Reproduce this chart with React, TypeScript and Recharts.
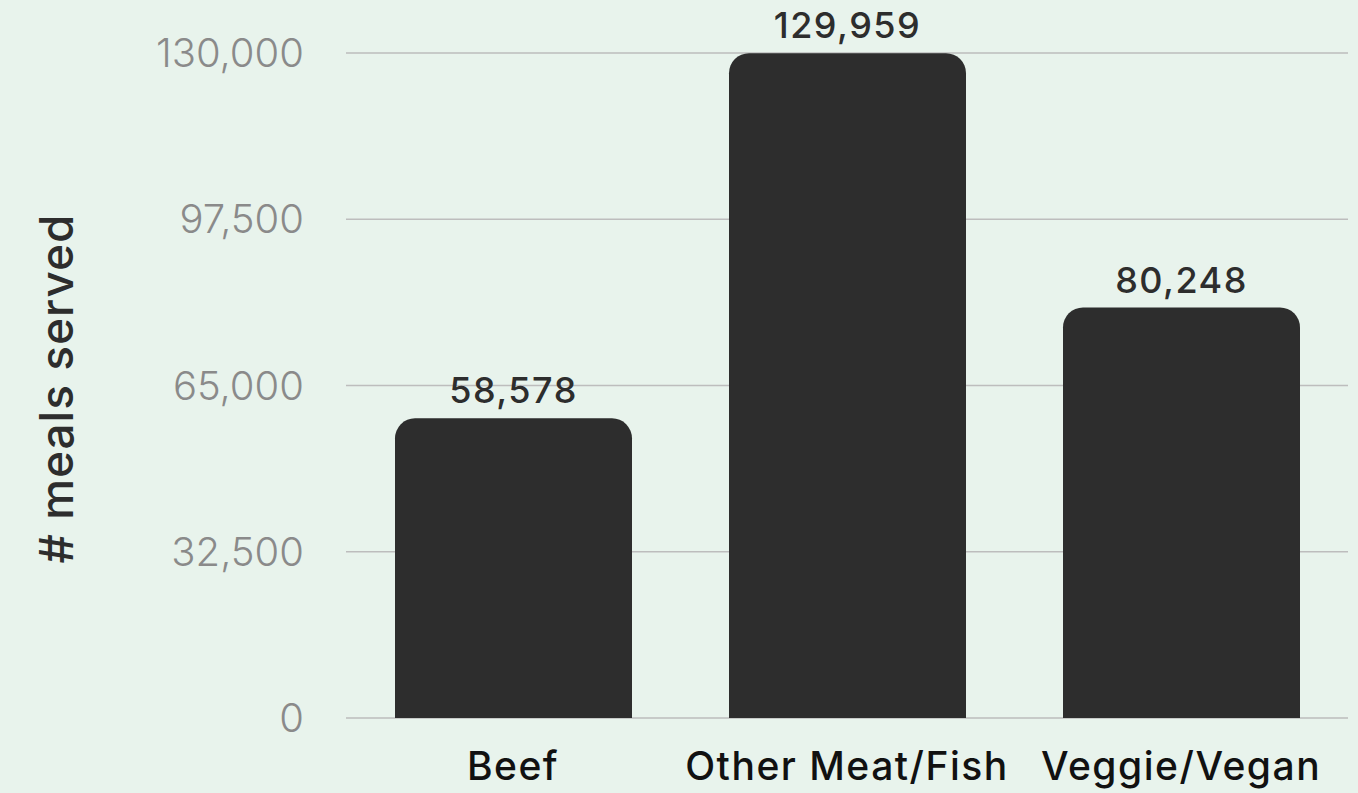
import { BarChart, Bar, XAxis, YAxis, CartesianGrid, LabelList } from "recharts";

const categories = ["Beef", "Other Meat/Fish", "Veggie/Vegan"];
const mealsServed = [58578, 129959, 80248];
const yTicks = [0, 32500, 65000, 97500, 130000];

const data = categories.map((name, i) => ({ name, meals: mealsServed[i] }));

const fmt = (v: number) => v.toLocaleString("en-US");

export default function App() {
  return (
    <div
      style={{
        position: "absolute",
        left: 0,
        top: 0,
        width: 1358,
        height: 793,
        background: "#e8f3ec",
        fontFamily: "Inter, 'Noto Sans', sans-serif",
      }}
    >
      <BarChart
        width={1358}
        height={793}
        data={data}
        margin={{ top: 53, right: 10, bottom: 0, left: 0 }}
        barSize={237}
      >
        <CartesianGrid vertical={false} stroke="#bdbdbd" strokeWidth={1.5} />
        <XAxis
          dataKey="name"
          axisLine={false}
          tickLine={false}
          height={75}
          tickMargin={28}
          tick={{ fill: "#111", fontSize: 39, fontWeight: 500, letterSpacing: 1.5 }}
        />
        <YAxis
          width={346}
          domain={[0, 130000]}
          ticks={yTicks}
          interval={0}
          axisLine={false}
          tickLine={false}
          tickMargin={36}
          tickFormatter={fmt}
          tick={{ fill: "#8a8a8a", fontSize: 40, fontWeight: 300 }}
          label={{
            value: "# meals served",
            angle: -90,
            position: "insideLeft",
            dx: 52,
            dy: 3,
            style: { fill: "#2d2d2d", fontSize: 46, fontWeight: 500, textAnchor: "middle", letterSpacing: 1 },
          }}
        />
        <Bar dataKey="meals" fill="#2d2d2d" radius={[20, 20, 0, 0]} isAnimationActive={false}>
          <LabelList
            dataKey="meals"
            position="top"
            offset={15}
            formatter={(v: number) => fmt(v)}
            style={{ fill: "#2d2d2d", fontSize: 36, fontWeight: 500, letterSpacing: 1.5 }}
          />
        </Bar>
      </BarChart>
    </div>
  );
}
